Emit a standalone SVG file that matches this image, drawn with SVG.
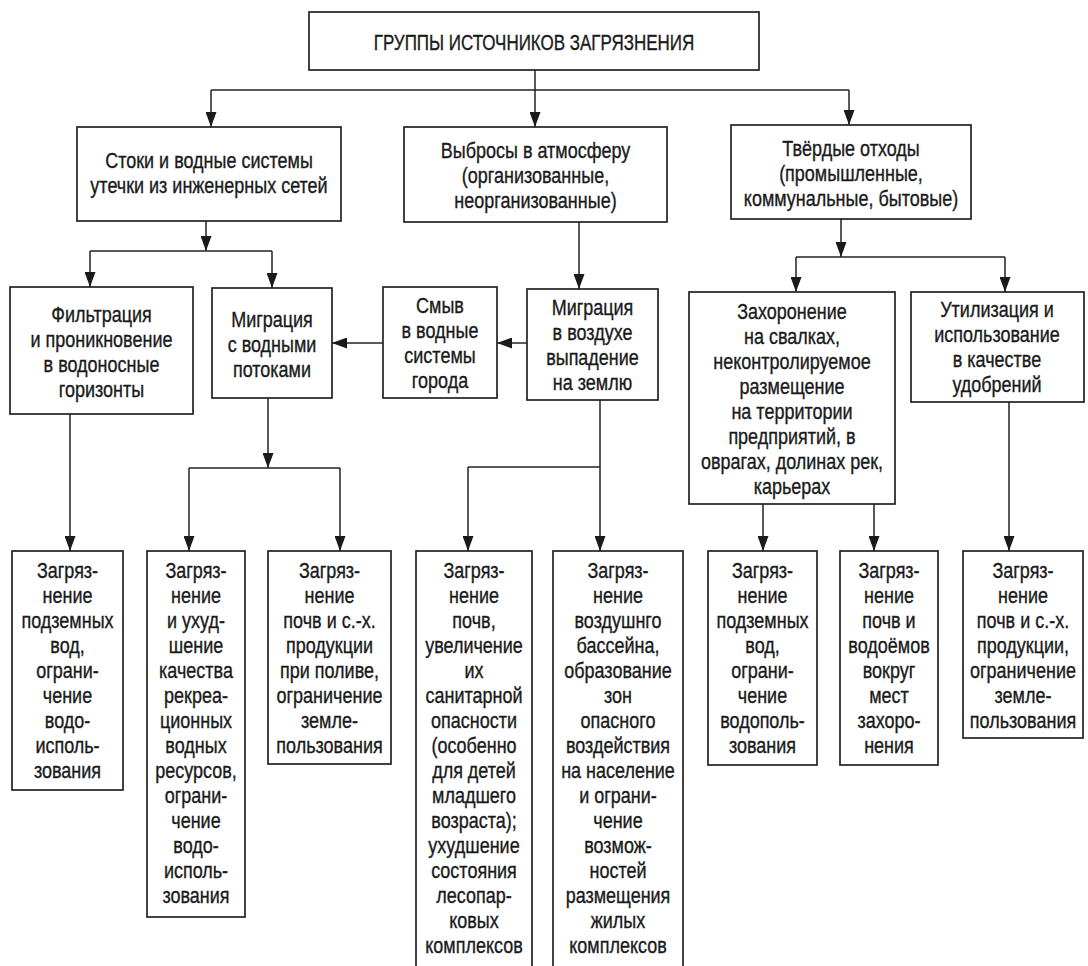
<svg xmlns="http://www.w3.org/2000/svg" width="1088" height="966" viewBox="0 0 1088 966">
<defs>
<marker id="ah" viewBox="0 0 15 11" refX="15" refY="5.5" markerWidth="15" markerHeight="11" markerUnits="userSpaceOnUse" orient="auto"><path d="M0,0 L15,5.5 L0,11 z" fill="#1a1a1a"/></marker>
<style>
.box{fill:#fff;stroke:#222;stroke-width:1.7}
.ln{fill:none;stroke:#222;stroke-width:1.5}
.ar{fill:none;stroke:#222;stroke-width:1.5;marker-end:url(#ah)}
text{font-family:"Liberation Sans",Arial,sans-serif;font-size:21.5px;fill:#1a1a1a;stroke:#1a1a1a;stroke-width:0.35;text-anchor:middle}
</style>
</defs>
<rect width="1088" height="966" fill="#fff"/>

<g id="connectors">
<path class="ar" d="M535,70 V127"/>
<path class="ln" d="M211,90 H849"/>
<path class="ar" d="M211,90 V127"/>
<path class="ar" d="M849,90 V125"/>
<path class="ar" d="M206,221 V251"/>
<path class="ln" d="M90,251 H272"/>
<path class="ar" d="M90,251 V287"/>
<path class="ar" d="M272,251 V288"/>
<path class="ar" d="M579,222 V289"/>
<path class="ar" d="M841,219 V257"/>
<path class="ln" d="M796,257 H1005"/>
<path class="ar" d="M796,257 V292"/>
<path class="ar" d="M1005,257 V292"/>
<path class="ar" d="M527,343 H497"/>
<path class="ar" d="M383,343 H332"/>
<path class="ar" d="M70,414 V551"/>
<path class="ar" d="M268,398 V468"/>
<path class="ln" d="M189,468 H340"/>
<path class="ar" d="M189,468 V551"/>
<path class="ar" d="M340,468 V551"/>
<path class="ar" d="M600,400 V551"/>
<path class="ln" d="M468,467 H600"/>
<path class="ar" d="M468,467 V551"/>
<path class="ar" d="M763,504 V551"/>
<path class="ar" d="M874,504 V551"/>
<path class="ar" d="M1009,402 V551"/>
</g>

<g id="n-title">
<rect class="box" x="309" y="12" width="450" height="58"/>
<text transform="translate(534,0) scale(0.79,1)"><tspan x="0" y="50">ГРУППЫ ИСТОЧНИКОВ ЗАГРЯЗНЕНИЯ</tspan></text>
</g>

<g id="n-stoki">
<rect class="box" x="77" y="127" width="264" height="94"/>
<text transform="translate(209,0) scale(0.837,1)"><tspan x="0" y="168">Стоки и водные системы</tspan><tspan x="0" y="193">утечки из инженерных сетей</tspan></text>
</g>

<g id="n-vybrosy">
<rect class="box" x="404" y="127" width="263" height="95"/>
<text transform="translate(535.5,0) scale(0.837,1)"><tspan x="0" y="158">Выбросы в атмосферу</tspan><tspan x="0" y="183">(организованные,</tspan><tspan x="0" y="208">неорганизованные)</tspan></text>
</g>

<g id="n-otkhody">
<rect class="box" x="731" y="125" width="240" height="94"/>
<text transform="translate(851,0) scale(0.837,1)"><tspan x="0" y="156">Твёрдые отходы</tspan><tspan x="0" y="181">(промышленные,</tspan><tspan x="0" y="206">коммунальные, бытовые)</tspan></text>
</g>

<g id="n-filtr">
<rect class="box" x="10" y="287" width="183" height="127"/>
<text transform="translate(101.5,0) scale(0.837,1)"><tspan x="0" y="322">Фильтрация</tspan><tspan x="0" y="347">и проникновение</tspan><tspan x="0" y="372">в водоносные</tspan><tspan x="0" y="397">горизонты</tspan></text>
</g>

<g id="n-migr-voda">
<rect class="box" x="212" y="288" width="120" height="110"/>
<text transform="translate(272,0) scale(0.837,1)"><tspan x="0" y="327">Миграция</tspan><tspan x="0" y="352">с водными</tspan><tspan x="0" y="377">потоками</tspan></text>
</g>

<g id="n-smyv">
<rect class="box" x="383" y="287" width="114" height="111"/>
<text transform="translate(440,0) scale(0.837,1)"><tspan x="0" y="313">Смыв</tspan><tspan x="0" y="338">в водные</tspan><tspan x="0" y="363">системы</tspan><tspan x="0" y="388">города</tspan></text>
</g>

<g id="n-migr-vozd">
<rect class="box" x="527" y="289" width="131" height="111"/>
<text transform="translate(592.5,0) scale(0.837,1)"><tspan x="0" y="315">Миграция</tspan><tspan x="0" y="340">в воздухе</tspan><tspan x="0" y="365">выпадение</tspan><tspan x="0" y="390">на землю</tspan></text>
</g>

<g id="n-zakhoron">
<rect class="box" x="689" y="292" width="206" height="212"/>
<text transform="translate(792,0) scale(0.837,1)"><tspan x="0" y="319">Захоронение</tspan><tspan x="0" y="344">на свалках,</tspan><tspan x="0" y="369">неконтролируемое</tspan><tspan x="0" y="394">размещение</tspan><tspan x="0" y="419">на территории</tspan><tspan x="0" y="444">предприятий, в</tspan><tspan x="0" y="469">оврагах, долинах рек,</tspan><tspan x="0" y="494">карьерах</tspan></text>
</g>

<g id="n-util">
<rect class="box" x="911" y="292" width="173" height="110"/>
<text transform="translate(997,0) scale(0.837,1)"><tspan x="0" y="317">Утилизация и</tspan><tspan x="0" y="342">использование</tspan><tspan x="0" y="367">в качестве</tspan><tspan x="0" y="392">удобрений</tspan></text>
</g>

<g id="n-r1">
<rect class="box" x="12" y="551" width="111" height="239"/>
<text transform="translate(67.5,0) scale(0.837,1)"><tspan x="0" y="578">Загряз-</tspan><tspan x="0" y="603">нение</tspan><tspan x="0" y="628">подземных</tspan><tspan x="0" y="653">вод,</tspan><tspan x="0" y="678">ограни-</tspan><tspan x="0" y="703">чение</tspan><tspan x="0" y="728">водо-</tspan><tspan x="0" y="753">исполь-</tspan><tspan x="0" y="778">зования</tspan></text>
</g>

<g id="n-r2">
<rect class="box" x="147" y="551" width="98" height="366"/>
<text transform="translate(196,0) scale(0.837,1)"><tspan x="0" y="578">Загряз-</tspan><tspan x="0" y="603">нение</tspan><tspan x="0" y="628">и ухуд-</tspan><tspan x="0" y="653">шение</tspan><tspan x="0" y="678">качества</tspan><tspan x="0" y="703">рекреа-</tspan><tspan x="0" y="728">ционных</tspan><tspan x="0" y="753">водных</tspan><tspan x="0" y="778">ресурсов,</tspan><tspan x="0" y="803">ограни-</tspan><tspan x="0" y="828">чение</tspan><tspan x="0" y="853">водо-</tspan><tspan x="0" y="878">исполь-</tspan><tspan x="0" y="903">зования</tspan></text>
</g>

<g id="n-r3">
<rect class="box" x="268" y="551" width="123" height="213"/>
<text transform="translate(329.5,0) scale(0.837,1)"><tspan x="0" y="578">Загряз-</tspan><tspan x="0" y="603">нение</tspan><tspan x="0" y="628">почв и с.-х.</tspan><tspan x="0" y="653">продукции</tspan><tspan x="0" y="678">при поливе,</tspan><tspan x="0" y="703">ограничение</tspan><tspan x="0" y="728">земле-</tspan><tspan x="0" y="753">пользования</tspan></text>
</g>

<g id="n-r4">
<rect class="box" x="416" y="551" width="116" height="430"/>
<text transform="translate(474,0) scale(0.837,1)"><tspan x="0" y="578">Загряз-</tspan><tspan x="0" y="603">нение</tspan><tspan x="0" y="628">почв,</tspan><tspan x="0" y="653">увеличение</tspan><tspan x="0" y="678">их</tspan><tspan x="0" y="703">санитарной</tspan><tspan x="0" y="728">опасности</tspan><tspan x="0" y="753">(особенно</tspan><tspan x="0" y="778">для детей</tspan><tspan x="0" y="803">младшего</tspan><tspan x="0" y="828">возраста);</tspan><tspan x="0" y="853">ухудшение</tspan><tspan x="0" y="878">состояния</tspan><tspan x="0" y="903">лесопар-</tspan><tspan x="0" y="928">ковых</tspan><tspan x="0" y="953">комплексов</tspan></text>
</g>

<g id="n-r5">
<rect class="box" x="553" y="551" width="130" height="430"/>
<text transform="translate(618,0) scale(0.837,1)"><tspan x="0" y="578">Загряз-</tspan><tspan x="0" y="603">нение</tspan><tspan x="0" y="628">воздушнго</tspan><tspan x="0" y="653">бассейна,</tspan><tspan x="0" y="678">образование</tspan><tspan x="0" y="703">зон</tspan><tspan x="0" y="728">опасного</tspan><tspan x="0" y="753">воздействия</tspan><tspan x="0" y="778">на население</tspan><tspan x="0" y="803">и ограни-</tspan><tspan x="0" y="828">чение</tspan><tspan x="0" y="853">возмож-</tspan><tspan x="0" y="878">ностей</tspan><tspan x="0" y="903">размещения</tspan><tspan x="0" y="928">жилых</tspan><tspan x="0" y="953">комплексов</tspan></text>
</g>

<g id="n-r6">
<rect class="box" x="708" y="551" width="109" height="214"/>
<text transform="translate(762.5,0) scale(0.837,1)"><tspan x="0" y="578">Загряз-</tspan><tspan x="0" y="603">нение</tspan><tspan x="0" y="628">подземных</tspan><tspan x="0" y="653">вод,</tspan><tspan x="0" y="678">ограни-</tspan><tspan x="0" y="703">чение</tspan><tspan x="0" y="728">водополь-</tspan><tspan x="0" y="753">зования</tspan></text>
</g>

<g id="n-r7">
<rect class="box" x="840" y="551" width="98" height="214"/>
<text transform="translate(889,0) scale(0.837,1)"><tspan x="0" y="578">Загряз-</tspan><tspan x="0" y="603">нение</tspan><tspan x="0" y="628">почв и</tspan><tspan x="0" y="653">водоёмов</tspan><tspan x="0" y="678">вокруг</tspan><tspan x="0" y="703">мест</tspan><tspan x="0" y="728">захоро-</tspan><tspan x="0" y="753">нения</tspan></text>
</g>

<g id="n-r8">
<rect class="box" x="963" y="551" width="120" height="187"/>
<text transform="translate(1023,0) scale(0.837,1)"><tspan x="0" y="578">Загряз-</tspan><tspan x="0" y="603">нение</tspan><tspan x="0" y="628">почв и с.-х.</tspan><tspan x="0" y="653">продукции,</tspan><tspan x="0" y="678">ограничение</tspan><tspan x="0" y="703">земле-</tspan><tspan x="0" y="728">пользования</tspan></text>
</g>
</svg>
